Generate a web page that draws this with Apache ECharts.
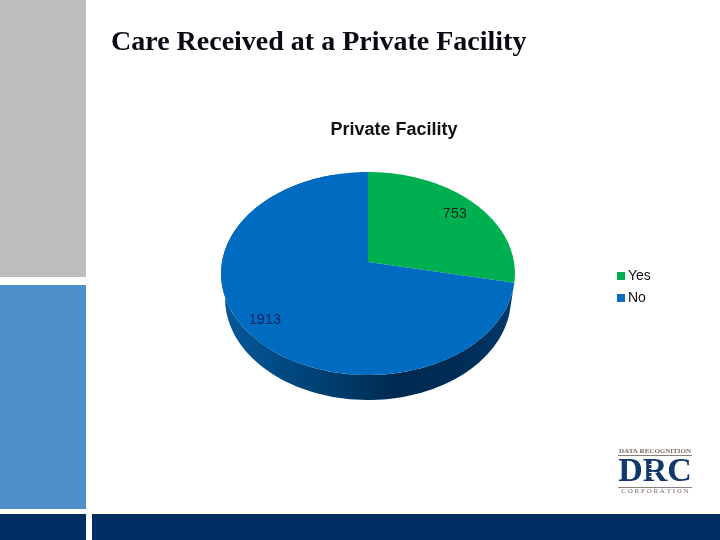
<!DOCTYPE html>
<html><head><meta charset="utf-8">
<style>html,body{margin:0;padding:0;background:#fff}#c{width:720px;height:540px}</style>
<script src="https://cdn.jsdelivr.net/npm/echarts@6/dist/echarts.min.js"></script>
</head><body><div id="c"></div>
<script>
const categories = ["Yes", "No"];
const yesValues = [753];
const noValues = [1913];
const total = yesValues[0] + noValues[0];

// Perspective pie view (styling only)
const view = {cx: 368, cy: 262, c: 146, a: 100.2, k: 0.1133, depth: 25};
function project(theta, r, shrink, dy) {
  const u = r * Math.sin(theta), v = -r * Math.cos(theta);
  const d = 1 - view.k * v;
  return [view.cx + (view.c - (shrink || 0)) * u / d, view.cy + view.a * v / d + (dy || 0)];
}
function arc(a0, a1, shrink, dy) {
  const n = 120, pts = [];
  for (let i = 0; i <= n; i++) pts.push(project(a0 + (a1 - a0) * i / n, 1, shrink, dy));
  return pts;
}
function sliceRender(startValue, color, textColor, withWall, labelR) {
  return function (params, api) {
    const val = api.value(0);
    const a0 = startValue / total * 2 * Math.PI, a1 = (startValue + val) / total * 2 * Math.PI;
    const children = [];
    if (withWall) {
      const top = arc(a0, a0 + (a1 - a0) * 0.94);
      const bot = arc(a0, a0 + (a1 - a0) * 0.94, 4, view.depth).reverse();
      children.push({
        type: 'polygon', shape: {points: top.concat(bot)},
        style: {fill: new echarts.graphic.LinearGradient(0, 0, 1, 0, [
          {offset: 0, color: '#08589a'}, {offset: 0.18, color: '#004c86'},
          {offset: 0.42, color: '#003a68'}, {offset: 0.6, color: '#002a50'},
          {offset: 0.82, color: '#002c54'}, {offset: 1, color: '#003a6c'}])}
      });
    }
    children.push({
      type: 'polygon',
      shape: {points: [[view.cx, view.cy]].concat(arc(a0, a1))},
      style: {fill: color}
    });
    const lp = project((a0 + a1) / 2, labelR);
    children.push({
      type: 'text', x: lp[0], y: lp[1],
      style: {text: String(val), fill: textColor, font: '14.5px "Liberation Sans"', align: 'center', verticalAlign: 'middle'}
    });
    return {type: 'group', children};
  };
}
function rect(x, y, w, h, fill) {
  return {type: 'rect', shape: {x, y, width: w, height: h}, style: {fill}, silent: true};
}
function txt(x, y, text, font, fill) {
  return {type: 'text', x, y, silent: true, style: {text, font, fill, align: 'center', verticalAlign: 'middle'}};
}
const chart = echarts.init(document.getElementById('c'), null, {renderer: 'canvas'});
chart.setOption({
  animation: false,
  backgroundColor: '#ffffff',
  title: [
    {text: 'Care Received at a Private Facility', left: 106, top: 24,
     textStyle: {fontFamily: 'Liberation Serif', fontWeight: 'bold', fontSize: 28, color: '#0a0a14'}},
    {text: 'Private Facility', left: 389, top: 116, textAlign: 'center',
     textStyle: {fontFamily: 'Liberation Sans', fontWeight: 'bold', fontSize: 18, color: '#111111'}}
  ],
  legend: {
    orient: 'vertical', left: 612, top: 264, itemWidth: 8, itemHeight: 8, itemGap: 8,
    icon: 'rect', data: categories, selectedMode: false,
    textStyle: {fontFamily: 'Liberation Sans', fontSize: 14, color: '#111111', padding: [0, 0, 0, -2]}
  },
  graphic: [
    rect(0, 0, 86, 277, '#bdbdbd'),
    rect(0, 285, 86, 224, '#4f8fcb'),
    rect(0, 514, 86, 26, '#002d62'),
    rect(92, 514, 628, 26, '#002d62'),
    txt(655, 451, 'DATA RECOGNITION', 'bold 7px "Liberation Serif"', '#7d6a5e'),
    rect(618, 455, 74, 1, '#8a7f78'),
    txt(655, 472, 'DRC', 'bold 34px "Liberation Serif"', '#10386a'),
    rect(649, 464, 8, 1, '#ffffff'), rect(649, 468, 8, 1, '#ffffff'),
    rect(649, 472, 8, 1, '#ffffff'), rect(649, 476, 8, 1, '#ffffff'),
    rect(618, 487, 74, 1, '#8a7f78'),
    txt(655, 491, 'C O R P O R A T I O N', '7px "Liberation Serif"', '#7d6a5e')
  ],
  series: [
    {name: categories[0], type: 'custom', coordinateSystem: 'none', silent: true,
     itemStyle: {color: '#00b050'}, data: [yesValues],
     renderItem: sliceRender(0, '#00b050', '#1a2a20', false, 0.81)},
    {name: categories[1], type: 'custom', coordinateSystem: 'none', silent: true,
     itemStyle: {color: '#0b6cc0'}, data: [noValues],
     renderItem: sliceRender(yesValues[0], '#006cc1', '#0c2460', true, 0.855)}
  ]
});
</script></body></html>
